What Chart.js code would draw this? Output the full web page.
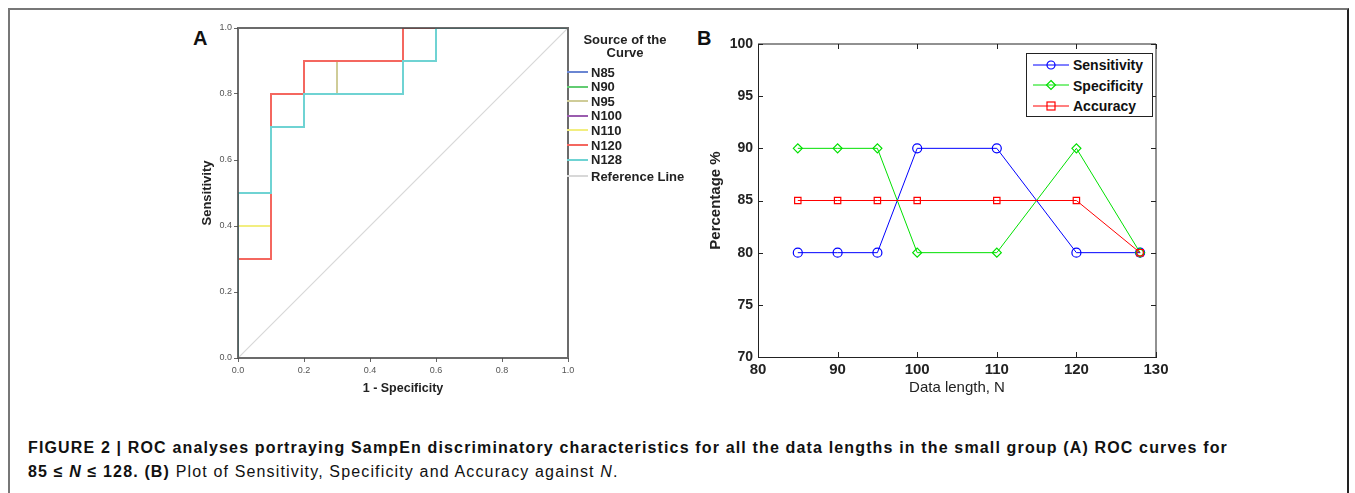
<!DOCTYPE html>
<html>
<head>
<meta charset="utf-8">
<script src="https://cdn.jsdelivr.net/npm/chart.js@4.4.1/dist/chart.umd.min.js"></script>
<style>
  body { margin: 0; background: #fff; font-family: "Liberation Sans", Arial, sans-serif; }
  #frame { position: absolute; left: 8px; top: 8px; width: 1337px; height: 500px;
           border-top: 2px solid #777; border-left: 2px solid #777; border-right: 2px solid #222; }
  .panel { position: absolute; font-weight: bold; font-size: 20px; color: #111; }
  canvas { position: absolute; }
  #legA { position: absolute; left: 567px; top: 33px; width: 125px; font-size: 13px; font-weight: bold; color: #222; }
  #legA .ttl { text-align: center; width: 116px; line-height: 13px; }
  #legA .row { position: absolute; left: 0; height: 14px; line-height: 14px; white-space: nowrap; }
  #legA .sw { display: inline-block; width: 21px; height: 2px; vertical-align: middle; margin-right: 3px; margin-top: -2px; }
  #legB { position: absolute; left: 1026px; top: 53px; width: 125px; height: 62px; border: 1px solid #222; background: #fff;
          font-size: 14px; font-weight: bold; color: #111; }
  #legB .row { position: absolute; left: 6px; height: 20px; line-height: 20px; white-space: nowrap; }
  #legB svg { vertical-align: middle; margin-right: 4px; margin-top: -3px; }
  #caption { position: absolute; left: 28px; top: 436px; font-size: 16px; letter-spacing: 1.15px; color: #111; line-height: 24px; white-space: nowrap; }
</style>
</head>
<body>
<div id="frame"></div>
<div class="panel" style="left:193px;top:27px;">A</div>
<div class="panel" style="left:697px;top:27px;">B</div>
<canvas id="rocChart" width="520" height="390" style="left:180px;top:15px;"></canvas>
<canvas id="lenChart" width="480" height="380" style="left:700px;top:20px;"></canvas>
<div id="legA"></div>
<div id="legB"></div>
<div id="caption">
  <b>FIGURE 2 | ROC analyses portraying SampEn discriminatory characteristics for all the data lengths in the small group (A) ROC curves for</b><br>
  <b>85 ≤ <i>N</i> ≤ 128. (B)</b> Plot of Sensitivity, Specificity and Accuracy against <i>N</i>.
</div>
<script>
// panel A: ROC step curves (1 - specificity, sensitivity)
const n85X = [0, 0, 0.1, 0.1, 0.2, 0.2, 0.5, 0.5, 0.6, 0.6, 1];
const n85Y = [0, 0.5, 0.5, 0.7, 0.7, 0.8, 0.8, 0.9, 0.9, 1, 1];
const n90X = [0, 0, 0.1, 0.1, 0.2, 0.2, 0.5, 0.5, 1];
const n90Y = [0, 0.5, 0.5, 0.8, 0.8, 0.9, 0.9, 1, 1];
const n95X = [0, 0, 0.1, 0.1, 0.2, 0.2, 0.3, 0.3, 0.5, 0.5, 1];
const n95Y = [0, 0.5, 0.5, 0.7, 0.7, 0.8, 0.8, 0.9, 0.9, 1, 1];
const n100X = [0, 0, 0.1, 0.1, 0.2, 0.2, 0.5, 0.5, 0.6, 0.6, 1];
const n100Y = [0, 0.5, 0.5, 0.7, 0.7, 0.8, 0.8, 0.9, 0.9, 1, 1];
const n110X = [0, 0, 0.1, 0.1, 0.2, 0.2, 0.5, 0.5, 1];
const n110Y = [0, 0.4, 0.4, 0.8, 0.8, 0.9, 0.9, 1, 1];
const n120X = [0, 0, 0.1, 0.1, 0.2, 0.2, 0.5, 0.5, 1];
const n120Y = [0, 0.3, 0.3, 0.8, 0.8, 0.9, 0.9, 1, 1];
const n128X = [0, 0, 0.1, 0.1, 0.2, 0.2, 0.5, 0.5, 0.6, 0.6, 1];
const n128Y = [0, 0.5, 0.5, 0.7, 0.7, 0.8, 0.8, 0.9, 0.9, 1, 1];
const refX = [0, 1];
const refY = [0, 1];
const rocTicks = [0, 0.2, 0.4, 0.6, 0.8, 1.0];

// panel B: performance vs data length
const dataLengths = [85, 90, 95, 100, 110, 120, 128];
const sensitivity = [80, 80, 80, 90, 90, 80, 80];
const specificity = [90, 90, 90, 80, 80, 90, 80];
const accuracy = [85, 85, 85, 85, 85, 85, 80];

const toPoints = (xs, ys) => xs.map((x, i) => ({ x: x, y: ys[i] }));

const rocSeries = [
    { label: 'N85', xs: n85X, ys: n85Y, color: '#6a86d2' },
    { label: 'N90', xs: n90X, ys: n90Y, color: '#62cc72' },
    { label: 'N95', xs: n95X, ys: n95Y, color: '#cfcc98' },
    { label: 'N100', xs: n100X, ys: n100Y, color: '#9a5cae' },
    { label: 'N110', xs: n110X, ys: n110Y, color: '#f2ee80' },
    { label: 'N120', xs: n120X, ys: n120Y, color: '#f4675f' },
    { label: 'N128', xs: n128X, ys: n128Y, color: '#6fd3d3' },
    { label: 'Reference Line', xs: refX, ys: refY, color: '#d8d8d8' }
];

// draws the plot box over the data (and inward ticks for the matlab-style panel)
const boxPlugin = {
    id: 'box',
    afterDraw(chart, args, opts) {
        const a = chart.chartArea;
        const ctx = chart.ctx;
        ctx.save();
        ctx.strokeStyle = opts.color;
        ctx.lineWidth = opts.width;
        ctx.beginPath();
        if (opts.full) {
            ctx.rect(a.left, a.top, a.right - a.left, a.bottom - a.top);
        } else {
            ctx.moveTo(a.left, a.top);
            ctx.lineTo(a.right, a.top);
            ctx.lineTo(a.right, a.bottom);
        }
        ctx.stroke();
        if (opts.inner) {
            ctx.lineWidth = 1;
            const xs = chart.scales.x, ys = chart.scales.y;
            ctx.beginPath();
            xs.ticks.forEach(t => {
                const px = Math.round(xs.getPixelForValue(t.value)) + 0.5;
                ctx.moveTo(px, a.bottom); ctx.lineTo(px, a.bottom - 5);
                ctx.moveTo(px, a.top); ctx.lineTo(px, a.top + 5);
            });
            ys.ticks.forEach(t => {
                const py = Math.round(ys.getPixelForValue(t.value)) + 0.5;
                ctx.moveTo(a.left, py); ctx.lineTo(a.left + 5, py);
                ctx.moveTo(a.right, py); ctx.lineTo(a.right - 5, py);
            });
            ctx.stroke();
        }
        ctx.restore();
    }
};

new Chart(document.getElementById('rocChart'), {
    type: 'scatter',
    data: {
        datasets: rocSeries.map((s, i) => ({
            label: s.label,
            data: toPoints(s.xs, s.ys),
            showLine: true,
            borderColor: s.color,
            borderWidth: i === 7 ? 1.2 : 2,
            pointRadius: 0,
            order: rocSeries.length - i
        }))
    },
    options: {
        responsive: false,
        animation: false,
        layout: { padding: { left: 0, top: 13, right: 132, bottom: 0 } },
        scales: {
            x: {
                type: 'linear', min: 0, max: 1,
                afterBuildTicks: s => { s.ticks = rocTicks.map(v => ({ value: v })); },
                afterFit: s => { s.height = 47; },
                ticks: { callback: v => v.toFixed(1), font: { size: 9, family: 'Liberation Sans' }, color: '#555', padding: 3, maxRotation: 0 },
                grid: { drawOnChartArea: false, tickLength: 4, color: '#666' },
                border: { display: false },
                title: { display: true, text: '1 - Specificity', font: { size: 12.5, weight: 'bold', family: 'Liberation Sans' }, color: '#222', padding: { top: 0, bottom: 9 } }
            },
            y: {
                type: 'linear', min: 0, max: 1,
                afterBuildTicks: s => { s.ticks = rocTicks.map(v => ({ value: v })); },
                afterFit: s => { s.width = 58; },
                ticks: { callback: v => v.toFixed(1), font: { size: 9, family: 'Liberation Sans' }, color: '#555', padding: 2 },
                grid: { drawOnChartArea: false, tickLength: 4, color: '#666' },
                border: { display: false },
                title: { display: true, text: 'Sensitivity', font: { size: 13, weight: 'bold', family: 'Liberation Sans' }, color: '#222', padding: { top: 20, bottom: 0 } }
            }
        },
        plugins: {
            legend: { display: false },
            tooltip: { enabled: false },
            box: { color: 'rgba(70, 70, 70, 0.8)', width: 2, inner: false, full: true }
        }
    },
    plugins: [boxPlugin]
});

const lenSeries = [
    { label: 'Sensitivity', values: sensitivity, color: '#0000ff', marker: 'circle', radius: 4.5 },
    { label: 'Specificity', values: specificity, color: '#00e000', marker: 'rectRot', radius: 4.5 },
    { label: 'Accuracy', values: accuracy, color: '#ff0000', marker: 'rect', radius: 4.5 }
];

new Chart(document.getElementById('lenChart'), {
    type: 'line',
    data: {
        datasets: lenSeries.map((s, i) => ({
            label: s.label,
            data: toPoints(dataLengths, s.values),
            borderColor: s.color,
            borderWidth: 1,
            pointStyle: s.marker,
            pointRadius: s.radius,
            pointBorderColor: s.color,
            pointBackgroundColor: 'rgba(0,0,0,0)',
            pointBorderWidth: 1.2,
            order: 3 - i
        }))
    },
    options: {
        responsive: false,
        animation: false,
        layout: { padding: { left: 0, top: 24, right: 24, bottom: 0 } },
        scales: {
            x: {
                type: 'linear', min: 80, max: 130,
                ticks: { stepSize: 10, font: { size: 15, weight: 'bold', family: 'Liberation Sans' }, color: '#222', padding: 4, maxRotation: 0 },
                afterFit: s => { s.height = 43; },
                grid: { display: false, drawTicks: false },
                border: { color: '#222', width: 1 },
                title: { display: true, text: 'Data length, N', font: { size: 15, family: 'Liberation Sans' }, color: '#222', padding: { top: 0, bottom: 3 } }
            },
            y: {
                type: 'linear', min: 70, max: 100,
                ticks: { stepSize: 5, font: { size: 14, weight: 'bold', family: 'Liberation Sans' }, color: '#222', padding: 5 },
                afterFit: s => { s.width = 58; },
                grid: { display: false, drawTicks: false },
                border: { color: '#222', width: 1 },
                title: { display: true, text: 'Percentage %', font: { size: 15, weight: 'bold', family: 'Liberation Sans' }, color: '#222', padding: { top: 7, bottom: 0 } }
            }
        },
        plugins: {
            legend: { display: false },
            tooltip: { enabled: false },
            box: { color: '#222', width: 1, inner: true, full: false }
        }
    },
    plugins: [boxPlugin]
});

// legend A (SPSS style)
const legA = document.getElementById('legA');
legA.innerHTML = '<div class="ttl">Source of the<br>Curve</div>';
const legARows = [72.5, 87, 101.5, 116, 130.5, 145.5, 160, 176.5];
rocSeries.forEach((s, i) => {
    const row = document.createElement('div');
    row.className = 'row';
    row.style.top = (legARows[i] - 33 - 7) + 'px';
    row.innerHTML = '<span class="sw" style="background:' + s.color + '"></span>' + s.label;
    legA.appendChild(row);
});

// legend B (matlab style)
const legB = document.getElementById('legB');
const markerSvg = {
    circle: c => '<circle cx="18" cy="6" r="4" fill="none" stroke="' + c + '" stroke-width="1.2"/>',
    rectRot: c => '<polygon points="18,1.5 22.5,6 18,10.5 13.5,6" fill="none" stroke="' + c + '" stroke-width="1.2"/>',
    rect: c => '<rect x="14" y="2" width="8" height="8" fill="none" stroke="' + c + '" stroke-width="1.2"/>'
};
lenSeries.forEach((s, i) => {
    const row = document.createElement('div');
    row.className = 'row';
    row.style.top = (i * 20.7 + 1) + 'px';
    row.innerHTML = '<svg width="36" height="12"><line x1="0" y1="6" x2="36" y2="6" stroke="' + s.color + '" stroke-width="1"/>' +
        markerSvg[s.marker](s.color) + '</svg>' + s.label;
    legB.appendChild(row);
});
</script>
</body>
</html>
